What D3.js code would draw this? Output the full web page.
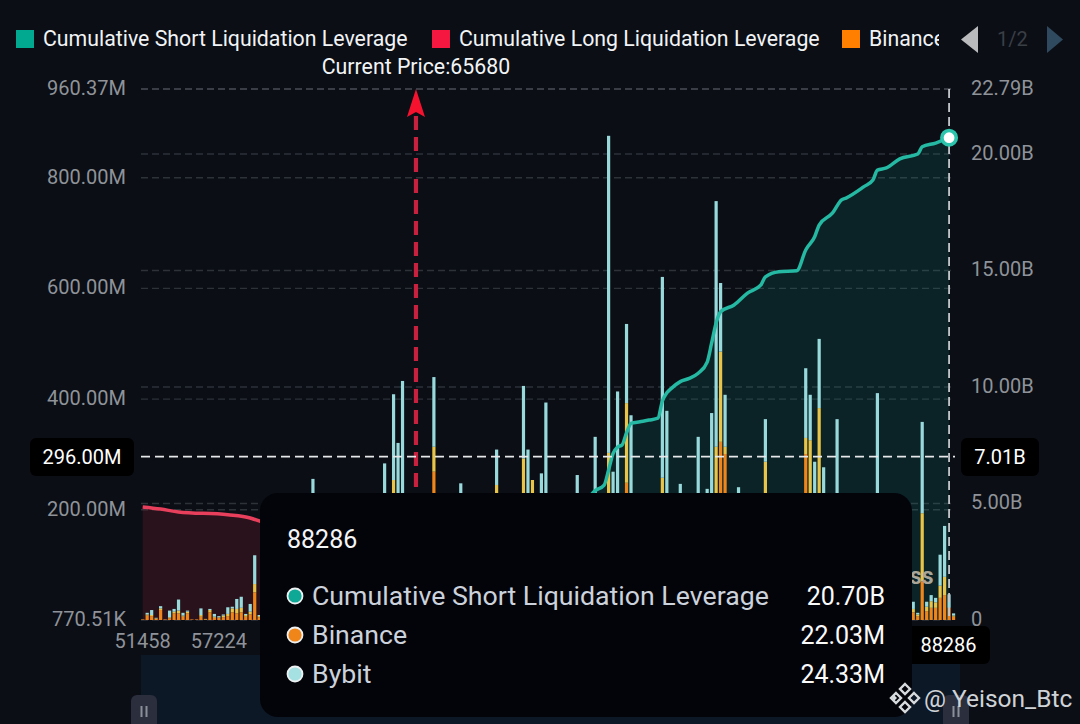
<!DOCTYPE html>
<html><head><meta charset="utf-8">
<script src="https://cdn.jsdelivr.net/npm/d3@7"></script>
<style>
html,body{margin:0;padding:0;background:#0b0e15;overflow:hidden}
svg{display:block}
text{font-family:Roboto,"Noto Sans",sans-serif}
</style></head><body><svg id="c" width="1080" height="724"></svg>
<script>
// Chart data (M for bars, B for cumulative series)
const legendNames = ["Cumulative Short Liquidation Leverage","Cumulative Long Liquidation Leverage","Binance"];
const leftTickValues = [0.77051,200,400,600,800,960.37];
const leftTickLabels = ["770.51K","200.00M","400.00M","600.00M","800.00M","960.37M"];
const rightTickValues = [0,5,10,15,20,22.79];
const rightTickLabels = ["0","5.00B","10.00B","15.00B","20.00B","22.79B"];
const xTickBins = [0,17];
const xTickLabels = ["51458","57224"];
const binCount = 182, currentPriceBin = 61, hoverBin = 180;

const bins    = [0,1,2,3,4,5,6,7,8,9,10,11,12,13,14,15,16,17,18,19,20,21,22,23,24,25,26,38,54,56,57,58,65,71,79,85,86,87,89,90,97,101,104,105,106,108,109,116,117,120,124,126,127,128,129,130,133,139,148,149,150,151,152,155,164,172,173,174,175,176,177,178,179,180,181];
const binance = [1,8,7,2,18,1,3,12,12,6,12,1,1,6,1,14,4,4,5,7,14,12,14,6,10,50,5,100,100,170,120,150,268,90,160,170,120,150,110,130,100,120,190,110,130,248,120,170,130,90,110,90,120,170,322,300,100,120,300,180,130,200,120,110,120,14,7,70,16,22,22,40,45,22.03,6];
const okx     = [0,2,2,1,3,0,2,3,5,2,3,0,0,3,1,4,2,1,3,4,7,8,8,3,5,15,2,60,60,83,60,70,45,50,84,122,60,103,60,60,50,60,112,60,60,144,60,87,60,50,60,50,60,143,163,13,50,166,29,145,90,183,70,60,60,6,3,123,8,12,10,22,33,0,2];
const bybit   = [0,3,9,1,4,0,12,5,20,5,2,0,0,12,0,2,5,2,2,12,3,18,20,2,14,52,2,95,123,155,140,212,126,107,64,131,128,0,95,203,112,151,573,98,223,143,190,363,188,106,161,97,194,444,124,94,90,77,126,82,66,125,86,193,230,13,3,165,9,11,8,56,92,24.33,4];

const shortBins = [61,70,80,90,97,101,103,104,105,106,107,108,109,111,113,115,116,117,118,120,122,124,126,127,128,129,132,135,138,139,142,146,148,150,151,154,156,157,161,163,164,166,169,173,174,177,180];
const shortVals = [0.1,0.8,1.8,3.2,4.6,5.55,5.79,6.44,7.15,7.42,7.51,8.03,8.44,8.51,8.58,8.66,9.4,9.75,9.94,10.23,10.37,10.59,11.07,11.89,12.75,13.23,13.52,14.03,14.38,14.73,14.95,14.99,15.88,16.45,16.95,17.47,18.03,18.11,18.6,18.88,19.31,19.4,19.79,20.0,20.31,20.47,20.70];
const longBins = [0,4,8,19,24,26,30,40,50,61];
const longVals = [4.85,4.76,4.64,4.52,4.38,4.25,3.9,2.6,1.2,0];

const crossLeft = 296, crossLeftLabel = "296.00M", crossRightLabel = "7.01B", hoverLabel = "88286";
const tooltipTitle = "88286";
const tooltipNames = ["Cumulative Short Liquidation Leverage","Binance","Bybit"];
const tooltipValues = ["20.70B","22.03M","24.33M"];

// Styles
const BG="#0b0e15", TICK="#8f9399", GREEN="#25b8a2", RED="#e8405c";
const C_BIN="#f0861a", C_OKX="#e8c548", C_BYB="#98d9dc";

const svg = d3.select("#c");
const defs = svg.append("defs");
defs.append("clipPath").attr("id","legendClip").append("rect").attr("x",0).attr("y",15).attr("width",939).attr("height",50);

const plotL=141, plotR=955, plotT=89, plotB=620;
const x = d3.scaleBand().domain(d3.range(binCount)).range([140.46,955.8]);
const cx = b => x(b)+x.bandwidth()/2;
const yL = d3.scaleLinear().domain([0.77051,960.37]).range([plotB,plotT]);
const yR = d3.scaleLinear().domain([0,22.79]).range([plotB,plotT]);

// Data-zoom slider strip
svg.append("rect").attr("x",plotL).attr("y",655).attr("width",plotR-plotL+5).attr("height",69).attr("fill","#0d1826");

// Grid
svg.append("g").selectAll("line").data(leftTickValues).join("line")
  .attr("x1",plotL).attr("x2",plotR).attr("y1",d=>yL(d)).attr("y2",d=>yL(d))
  .attr("stroke",(d,i)=>i==5?"#4b4e55":"#2d3138").attr("stroke-width",1.4).attr("stroke-dasharray","7 4");
svg.append("g").selectAll("line").data(rightTickValues.slice(1,5)).join("line")
  .attr("x1",plotL).attr("x2",plotR).attr("y1",d=>yR(d)).attr("y2",d=>yR(d))
  .attr("stroke","#2d3138").attr("stroke-width",1.4).attr("stroke-dasharray","7 4");

// Areas
const shortPts = shortBins.map((b,i)=>[b,shortVals[i]]);
const longPts = longBins.map((b,i)=>[b,longVals[i]]);
const area = d3.area().x(d=>cx(d[0])).y0(plotB).y1(d=>yR(d[1]));
const line = d3.line().x(d=>cx(d[0])).y(d=>yR(d[1])).curve(d3.curveMonotoneX);
svg.append("path").datum(longPts).attr("d",area).attr("fill","#c02a3a").attr("opacity",0.17);
svg.append("path").datum(shortPts).attr("d",area).attr("fill","#0fae98").attr("opacity",0.13);

// Stacked bars
const rows = bins.map((b,i)=>({bin:b,binance:binance[i],okx:okx[i],bybit:bybit[i]}));
const stack = d3.stack().keys(["binance","okx","bybit"])(rows);
const colours = {binance:C_BIN,okx:C_OKX,bybit:C_BYB};
svg.append("g").selectAll("g").data(stack).join("g").attr("fill",d=>colours[d.key])
 .selectAll("rect").data(d=>d).join("rect")
  .attr("x",d=>cx(d.data.bin)-1.6).attr("width",3.2)
  .attr("y",d=>yL(d[1]+0.77051)).attr("height",d=>yL(d[0]+0.77051)-yL(d[1]+0.77051));

// Lines
svg.append("path").datum(longPts).attr("d",line).attr("fill","none").attr("stroke",RED).attr("stroke-width",3.5);
svg.append("path").datum(shortPts).attr("d",line).attr("fill","none").attr("stroke",GREEN).attr("stroke-width",3.5);

// Current price marker
const cpx = cx(currentPriceBin);
svg.append("line").attr("x1",cpx).attr("x2",cpx).attr("y1",116).attr("y2",plotB)
  .attr("stroke","#c8213f").attr("stroke-width",4.2).attr("stroke-dasharray","14 7");
svg.append("path").attr("transform",`translate(${cpx},0)`).attr("d","M0,89L9,117L0,112L-9,117Z").attr("fill","#f5122f");
svg.append("text").attr("x",cpx).attr("y",74).attr("text-anchor","middle").attr("fill","#f2f4f6").attr("font-size",21.3).text("Current Price:65680");

// Crosshair
svg.append("line").attr("x1",plotL).attr("x2",plotR).attr("y1",yL(crossLeft)).attr("y2",yL(crossLeft))
  .attr("stroke","#e6e8ea").attr("stroke-width",1.8).attr("stroke-dasharray","9 5");
svg.append("line").attr("x1",cx(hoverBin)).attr("x2",cx(hoverBin)).attr("y1",plotT).attr("y2",plotB)
  .attr("stroke","#c4c8cc").attr("stroke-width",1.8).attr("stroke-dasharray","9 5");
svg.append("circle").attr("cx",cx(hoverBin)).attr("cy",yR(shortVals[shortVals.length-1])).attr("r",7.2)
  .attr("fill","#fff").attr("stroke","#2cc4ac").attr("stroke-width",3.6);

// Axes
const gl = svg.append("g").attr("transform",`translate(${plotL},-1)`)
  .call(d3.axisLeft(yL).tickValues(leftTickValues).tickFormat((d,i)=>leftTickLabels[i]).tickSize(0).tickPadding(15));
const gr = svg.append("g").attr("transform",`translate(956,-1)`)
  .call(d3.axisRight(yR).tickValues(rightTickValues).tickFormat((d,i)=>rightTickLabels[i]).tickSize(0).tickPadding(15));
const gx = svg.append("g").attr("transform",`translate(0,${plotB+5})`)
  .call(d3.axisBottom(x).tickValues(xTickBins).tickFormat((d,i)=>xTickLabels[i]).tickSize(0).tickPadding(9));
[gl,gr,gx].forEach(g=>{g.select(".domain").remove();g.selectAll("text").attr("fill",TICK).attr("font-size",20).attr("font-family","Roboto");});

// Axis pointer labels
function pointerLabel(px,py,w,h,txt,fs){
  svg.append("rect").attr("x",px).attr("y",py).attr("width",w).attr("height",h).attr("rx",6).attr("fill","#000");
  svg.append("text").attr("x",px+w/2).attr("y",py+h/2+fs*0.35).attr("text-anchor","middle").attr("fill","#fff").attr("font-size",fs).text(txt);
}
pointerLabel(30,438,104,38,crossLeftLabel,20);
pointerLabel(961,438,78,38,crossRightLabel,20);
pointerLabel(907,626,83,38,hoverLabel,20);

// Faint watermark fragment
svg.append("text").attr("x",910).attr("y",584).attr("fill","#a9a598").attr("font-size",23).attr("font-weight",700).text("ss");

// Slider handles
[[131,"#2b2f3d"],[943,"#2b2f3d"]].forEach(([hx,c])=>{
  svg.append("rect").attr("x",hx).attr("y",695).attr("width",26).attr("height",34).attr("rx",6).attr("fill",c);
  [9.5,14.5].forEach(o=>svg.append("rect").attr("x",hx+o).attr("y",706).attr("width",2).attr("height",11).attr("fill","#8b8f9a"));
});

// Tooltip
svg.append("rect").attr("x",260).attr("y",493).attr("width",652).attr("height",224).attr("rx",18).attr("fill","#03040a");
svg.append("text").attr("x",287).attr("y",548).attr("fill","#f4f5f6").attr("font-size",25).text(tooltipTitle);
const dotCols=["#0fa896",C_BIN,"#a5e0e2"];
const rowY=[596,635,674];
tooltipNames.forEach((n,i)=>{
  svg.append("circle").attr("cx",295).attr("cy",rowY[i]).attr("r",7.5).attr("fill",dotCols[i]).attr("stroke","#eef1f2").attr("stroke-width",1.8);
  svg.append("text").attr("x",312).attr("y",rowY[i]+9).attr("fill","#ccd2db").attr("font-size",26.7).text(n);
  svg.append("text").attr("x",885).attr("y",rowY[i]+9).attr("text-anchor","end").attr("fill","#fafafa").attr("font-size",25).text(tooltipValues[i]);
});

// Legend
const lg = svg.append("g").attr("clip-path","url(#legendClip)");
[[16,43,"#00a98f"],[432,459,"#f5173f"],[842,869,"#ff7f00"]].forEach(([sx,tx,c],i)=>{
  lg.append("rect").attr("x",sx).attr("y",30).attr("width",18).attr("height",18).attr("fill",c);
  lg.append("text").attr("x",tx).attr("y",46).attr("fill","#f1f3f5").attr("font-size",21.3).text(legendNames[i]);
});
svg.append("path").attr("d","M978,26L978,53L961,39.5Z").attr("fill","#b9bbbd");
svg.append("text").attr("x",997).attr("y",46).attr("fill","#3a3e45").attr("font-size",20).text("1/2");
svg.append("path").attr("d","M1047,26L1047,53L1063,39.5Z").attr("fill","#2f4a5f");

// Credit
const wm = svg.append("g").attr("transform","translate(905,698)");
[[0,-9],[9,0],[0,9],[-9,0]].forEach(([a,b])=>{
  wm.append("path").attr("transform",`translate(${a},${b})`).attr("d","M0,-5L5,0L0,5L-5,0Z").attr("fill","none").attr("stroke","#d8dbdd").attr("stroke-width",2.4);
});
wm.append("path").attr("d","M-13,0L-10.5,-2.5L-8,0L-10.5,2.5Z").attr("fill","#d8dbdd");
svg.append("text").attr("x",924).attr("y",707).attr("fill","#cfd3d7").attr("font-size",24.5).text("@ Yeison_Btc");
</script></body></html>
